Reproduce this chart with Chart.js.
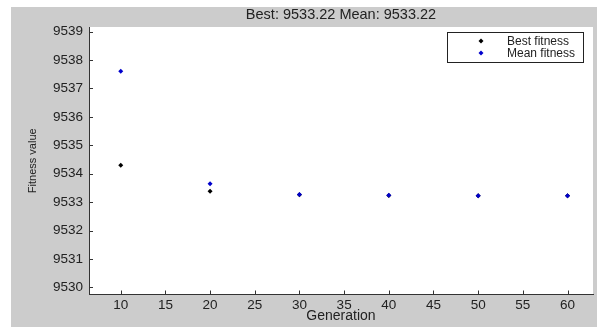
<!DOCTYPE html>
<html>
  <head>
    <meta charset="UTF-8">
    <title>Fitness value</title>
    <script src="https://cdn.jsdelivr.net/npm/chart.js"></script>
    <style>
      body { margin: 0; background: #fff; }
      #wrap { width: 597px; height: 327px; }
    </style>
  </head>
  <body>
    <div id="wrap"><canvas id="myChart" width="597" height="327"></canvas></div>

    <script>
      // values
      const generations = [10, 20, 30, 40, 50, 60];
      const bestFitness = [9534.30, 9533.38, 9533.26, 9533.23, 9533.22, 9533.22];
      const meanFitness = [9537.60, 9533.65, 9533.27, 9533.24, 9533.22, 9533.22];
      const xTicks = [10, 15, 20, 25, 30, 35, 40, 45, 50, 55, 60];
      const yTicks = [9530, 9531, 9532, 9533, 9534, 9535, 9536, 9537, 9538, 9539];
      const titleText = 'Best: 9533.22 Mean: 9533.22';

      const FONT = 'Arial, "Liberation Sans", sans-serif';

      // gray figure, white axes, inward ticks, title and legend box
      const matlabLook = {
        id: 'matlabLook',
        beforeDraw(chart) {
          const c = chart.ctx, a = chart.chartArea;
          c.save();
          c.fillStyle = '#cccccc';
          c.fillRect(11, 7, chart.width - 11, chart.height - 7);
          c.fillStyle = '#ffffff';
          c.fillRect(a.left, a.top, a.right - a.left, a.bottom - a.top);
          c.restore();
        },
        afterDraw(chart) {
          const c = chart.ctx, a = chart.chartArea;
          const xs = chart.scales.x, ys = chart.scales.y;
          c.save();
          c.strokeStyle = '#333333';
          c.lineWidth = 1;
          c.beginPath();
          xTicks.forEach(v => {
            const px = Math.round(xs.getPixelForValue(v)) + 0.5;
            c.moveTo(px, a.bottom); c.lineTo(px, a.bottom - 4);
          });
          yTicks.forEach(v => {
            const py = Math.round(ys.getPixelForValue(v)) + 0.5;
            c.moveTo(a.left, py); c.lineTo(a.left + 4, py);
          });
          c.stroke();

          // title
          c.fillStyle = '#222222';
          c.font = '14.5px ' + FONT;
          c.textAlign = 'center';
          c.textBaseline = 'middle';
          c.fillText(titleText, (a.left + a.right) / 2, 15);

          // legend
          const lx = 447, ly = 32, lw = 136, lh = 30;
          c.fillStyle = '#ffffff';
          c.fillRect(lx, ly, lw, lh);
          c.strokeStyle = '#222222';
          c.strokeRect(lx + 0.5, ly + 0.5, lw, lh);
          c.font = '12px ' + FONT;
          c.textAlign = 'left';
          chart.data.datasets.forEach((ds, i) => {
            const y = ly + 9 + i * 12;
            c.fillStyle = ds.backgroundColor;
            c.beginPath();
            c.moveTo(481, y - 2.5); c.lineTo(483.5, y); c.lineTo(481, y + 2.5); c.lineTo(478.5, y);
            c.closePath(); c.fill();
            c.fillStyle = '#222222';
            c.fillText(ds.label, 507, y + 0.5);
          });
          c.restore();
        }
      };

      const ctx = document.getElementById('myChart').getContext('2d');
      new Chart(ctx, {
        type: 'scatter',
        data: {
          datasets: [{
            label: 'Best fitness',
            data: generations.map((g, i) => ({ x: g, y: bestFitness[i] })),
            backgroundColor: '#000000',
            borderColor: '#000000',
            pointStyle: 'rectRot',
            pointRadius: 2.5,
            borderWidth: 0,
            order: 1
          }, {
            label: 'Mean fitness',
            data: generations.map((g, i) => ({ x: g, y: meanFitness[i] })),
            backgroundColor: '#0000cc',
            borderColor: '#0000cc',
            pointStyle: 'rectRot',
            pointRadius: 2.5,
            borderWidth: 0,
            order: 0
          }]
        },
        options: {
          responsive: false,
          animation: false,
          layout: { padding: { left: 26, top: 27, right: 4, bottom: 0 } },
          plugins: {
            legend: { display: false },
            title: { display: false },
            tooltip: { enabled: false }
          },
          scales: {
            x: {
              type: 'linear',
              min: 6.45,
              max: 62.85,
              afterBuildTicks: s => { s.ticks = xTicks.map(v => ({ value: v })); },
              afterFit: s => { s.height = 32.5; },
              grid: { drawOnChartArea: false, drawTicks: false, color: '#333333' },
              border: { color: '#333333' },
              ticks: { color: '#222222', font: { family: FONT, size: 13.5 }, padding: 3, maxRotation: 0, autoSkip: false },
              title: { display: true, text: 'Generation', color: '#222222', font: { family: FONT, size: 14 }, padding: { top: 0, bottom: 2 } }
            },
            y: {
              type: 'linear',
              min: 9529.75,
              max: 9539.16,
              afterBuildTicks: s => { s.ticks = yTicks.map(v => ({ value: v })); },
              afterFit: s => { s.width = 63; },
              grid: { drawOnChartArea: false, drawTicks: false, color: '#333333' },
              border: { color: '#333333' },
              ticks: { color: '#222222', font: { family: FONT, size: 13.5 }, padding: 6, autoSkip: false, callback: v => String(v) },
              title: { display: true, text: 'Fitness value', color: '#222222', font: { family: FONT, size: 11 }, padding: 0 }
            }
          }
        },
        plugins: [matlabLook]
      });
    </script>
  </body>
</html>
